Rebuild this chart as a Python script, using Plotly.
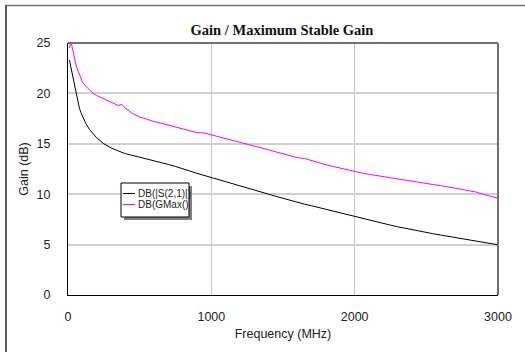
import plotly.graph_objects as go

freq_mhz = [10, 20, 30, 40, 50, 60, 70, 80, 90, 100, 125, 150, 175, 200, 250, 300, 350, 375, 400, 450, 500,
            550, 600, 650, 700, 750, 800, 850, 900, 950, 1000, 1050, 1100, 1150, 1200, 1250, 1300,
            1350, 1400, 1450, 1500, 1550, 1600, 1650, 1700, 1750, 1800, 1850, 1900, 1950, 2000,
            2050, 2100, 2150, 2200, 2250, 2300, 2350, 2400, 2450, 2500, 2550, 2600, 2650, 2700,
            2750, 2800, 2850, 2900, 2950, 3000]

s21_db = [23.3, 22.6, 21.9, 21.25, 20.5, 19.75, 19.05, 18.5, 18.1, 17.75,
          17.0, 16.42, 15.95, 15.6,
          15.0, 14.6, 14.3, 14.15, 14.02, 13.85, 13.68,
          13.52, 13.35, 13.15, 12.95, 12.75, 12.55, 12.3, 12.07, 11.87, 11.67,
          11.47, 11.27, 11.06, 10.85, 10.64, 10.43, 10.22, 10.0, 9.79, 9.58,
          9.38, 9.18, 9.01, 8.85, 8.67, 8.5, 8.33, 8.17, 8.0, 7.83,
          7.65, 7.47, 7.29, 7.11, 6.93, 6.77, 6.62, 6.48, 6.34, 6.2,
          6.07, 5.95, 5.82, 5.7, 5.57, 5.45, 5.32, 5.2, 5.09, 4.98]

gmax_db = [24.5, 25.2, 24.5, 23.7, 23.2, 22.6, 22.2, 21.8, 21.4, 21.15,
           20.7, 20.3, 20.0, 19.8,
           19.45, 19.15, 18.8, 18.9, 18.55, 18.0, 17.65,
           17.45, 17.2, 17.05, 16.85, 16.65, 16.45, 16.25, 16.1, 16.08, 15.9,
           15.72, 15.55, 15.35, 15.15, 14.95, 14.78, 14.6, 14.4, 14.2, 14.0,
           13.82, 13.62, 13.55, 13.32, 13.12, 12.92, 12.75, 12.58, 12.4, 12.23,
           12.1, 11.97, 11.85, 11.72, 11.6, 11.48, 11.38, 11.27, 11.15, 11.05,
           10.95, 10.85, 10.74, 10.62, 10.47, 10.33, 10.2, 9.98, 9.8, 9.6]

series_names = ["DB(|S(2,1)|)", "DB(GMax()"]
series_colors = ["#000000", "#ff00ff"]

x_ticks = [0, 1000, 2000, 3000]
y_ticks = [0, 5, 10, 15, 20, 25]

W, H = 525, 352
L, R, T, B = 68, 27, 43, 57
pw, ph = W - L - R, H - T - B


def px_x(p):
    return (p - L) / pw


def px_y(p):
    return (H - B - p) / ph


fig = go.Figure()
for name, col, ys in zip(series_names, series_colors, [s21_db, gmax_db]):
    fig.add_trace(go.Scatter(x=freq_mhz, y=ys, mode="lines", name=name,
                             line=dict(color=col, width=1), showlegend=False))

shapes = []
# outer frame
shapes.append(dict(type="rect", xref="paper", yref="paper", layer="below",
                   x0=px_x(6), x1=px_x(540), y0=px_y(370), y1=px_y(5.5),
                   line=dict(color="#707070", width=1.5), fillcolor="rgba(0,0,0,0)"))
shapes.append(dict(type="line", xref="paper", yref="paper",
                   x0=px_x(6), x1=px_x(6), y0=px_y(370), y1=px_y(5.5),
                   line=dict(color="#202020", width=1)))
# plot border top/right gray
shapes.append(dict(type="line", xref="paper", yref="paper", x0=0, x1=1, y0=1, y1=1,
                   line=dict(color="#707070", width=2)))
shapes.append(dict(type="line", xref="paper", yref="paper", x0=1, x1=1, y0=0, y1=1,
                   line=dict(color="#707070", width=2)))
# legend shadow & box
lx0, lx1, ly0, ly1 = 121, 189, 183, 217
shapes.append(dict(type="rect", xref="paper", yref="paper",
                   x0=px_x(lx0 + 3), x1=px_x(lx1 + 3), y0=px_y(ly1 + 3), y1=px_y(ly0 + 3),
                   line=dict(width=0), fillcolor="#808080"))
shapes.append(dict(type="rect", xref="paper", yref="paper",
                   x0=px_x(lx0), x1=px_x(lx1), y0=px_y(ly1), y1=px_y(ly0),
                   line=dict(color="#000000", width=1), fillcolor="#ffffff"))
annotations = []
for i, (name, col) in enumerate(zip(series_names, series_colors)):
    yy = 193.5 + i * 11
    shapes.append(dict(type="line", xref="paper", yref="paper",
                       x0=px_x(123), x1=px_x(135), y0=px_y(yy), y1=px_y(yy),
                       line=dict(color=col, width=1)))
    annotations.append(dict(xref="paper", yref="paper", x=px_x(135.5), y=px_y(yy),
                            xanchor="left", yanchor="middle", showarrow=False, text=name,
                            font=dict(family="Liberation Sans, Arial", size=10, color="#222222")))

fig.update_layout(
    width=W, height=H,
    margin=dict(l=L, r=R, t=T, b=B),
    paper_bgcolor="white", plot_bgcolor="white",
    title=dict(text="<b>Gain / Maximum Stable Gain</b>", xref="container", x=282 / W,
               xanchor="center", y=1 - 30 / H, yanchor="middle",
               font=dict(family="Liberation Serif, Times New Roman", size=14.5, color="#111111")),
    shapes=shapes, annotations=annotations,
    xaxis=dict(range=[0, 3000], tickvals=x_ticks, ticktext=[str(v) for v in x_ticks],
               showgrid=True, gridcolor="#c8c8c8", gridwidth=1, zeroline=False,
               showline=True, linecolor="#000000", linewidth=1, ticks="",
               ticklabelstandoff=10,
               tickfont=dict(family="Liberation Sans, Arial", size=12.5, color="#222222"),
               title=dict(text="Frequency (MHz)", standoff=6,
                          font=dict(family="Liberation Sans, Arial", size=12.5, color="#222222"))),
    yaxis=dict(range=[0, 25], tickvals=y_ticks, ticktext=[str(v) for v in y_ticks],
               showgrid=True, gridcolor="#d0d0d0", gridwidth=1.5, zeroline=False,
               showline=True, linecolor="#000000", linewidth=1, ticks="",
               ticklabelstandoff=14,
               tickfont=dict(family="Liberation Sans, Arial", size=12.5, color="#222222"),
               title=dict(text="Gain (dB)", standoff=5,
                          font=dict(family="Liberation Sans, Arial", size=12.5, color="#222222"))),
)

fig.write_html("out.html", config={"displayModeBar": False},
               post_script="document.body.style.margin='0';document.body.style.overflow='hidden';")
